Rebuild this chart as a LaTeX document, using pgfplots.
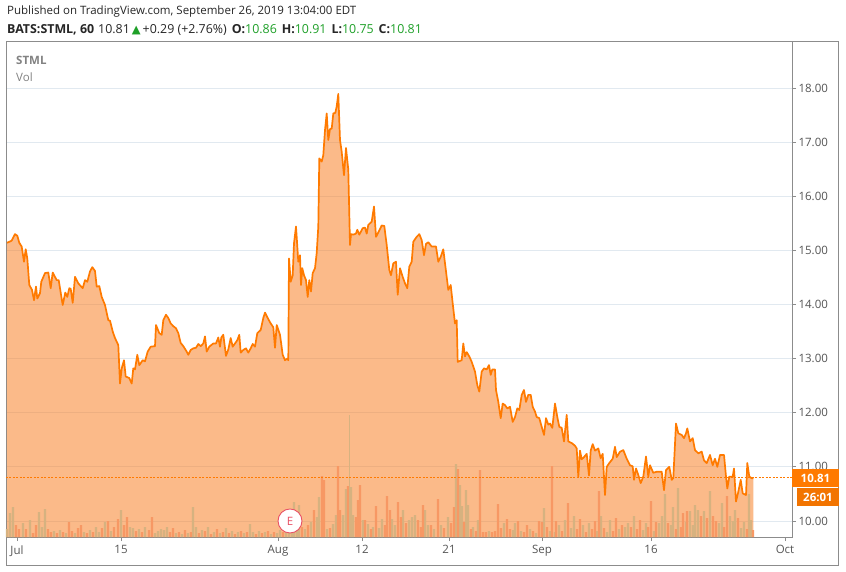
\documentclass[border=0pt]{standalone}
\usepackage{fontspec}
\setmainfont{Open Sans}
\newfontfamily\dejavu{DejaVu Sans}
\usepackage{pgfplots}
\pgfplotsset{compat=1.18}
\usepackage{pgfplotstable}
\definecolor{lineor}{RGB}{255,122,0}
\definecolor{areaor}{RGB}{249,118,20}
\definecolor{voltan}{RGB}{214,178,128}
\definecolor{volred}{RGB}{247,152,100}
\definecolor{gridc}{RGB}{225,233,240}
\definecolor{framec}{RGB}{140,140,140}
\definecolor{labc}{RGB}{85,85,85}
\definecolor{grn}{RGB}{30,160,40}
\definecolor{legc}{RGB}{130,130,130}
\definecolor{ered}{RGB}{232,80,100}
\pgfplotstableread{
x p
7 15.14
9.5 15.16
11.7 15.18
15 15.30
17.3 15.27
19.3 15.14
21.7 15.07
24 14.79
25.7 15.02
27.3 14.85
29.3 14.36
32 14.27
34 14.08
36 14.33
37.3 14.11
40 14.21
41.3 14.42
45 14.58
48.3 14.59
50.7 14.30
52.7 14.59
56.7 14.45
58.7 14.45
62.7 13.99
65.3 14.22
67.3 14.14
69.3 14.30
70.7 14.29
72.7 14.03
75 14.51
78.3 14.39
82.7 14.30
85 14.45
87.3 14.42
90 14.61
92.3 14.69
95 14.62
96.7 14.33
99.3 14.34
101.7 14.14
105 13.99
108.3 13.71
110 13.70
112.7 13.50
115 13.38
118.3 13.25
120 12.54
121.7 12.82
124 12.97
125.7 12.67
129.3 12.64
131.7 12.54
133.3 12.82
135 12.80
137.3 13.07
139.3 12.88
142.7 12.97
145 12.95
147.7 13.13
150.7 13.22
155 13.23
156 13.62
159.3 13.47
161.7 13.44
163.3 13.71
166 13.81
168.3 13.75
170.7 13.65
173.3 13.60
176 13.56
178.3 13.47
180.7 13.29
183.3 13.23
186.7 13.13
188.3 13.07
190.7 13.16
193.3 13.19
196 13.20
198.3 13.27
200.7 13.23
203.3 13.28
205 13.41
206.7 13.13
209.3 13.22
213.3 13.28
216 13.28
218.3 13.39
220 13.22
221.3 13.39
223.3 13.44
226 13.05
228.3 13.17
230.7 13.38
232.7 13.22
235 13.28
237.3 13.34
239.3 13.44
240.7 13.11
243.3 13.16
246 13.19
248.3 13.11
250.7 13.19
252.7 13.27
255 13.22
257.3 13.47
260.7 13.53
263.3 13.75
265 13.85
267.7 13.75
270.7 13.65
273.3 13.58
275 13.20
276.7 13.62
280 13.44
282.7 13.07
285 12.97
287.3 13.00
288.3 12.97
289 14.85
290.7 14.42
292.7 14.54
294 15.13
296 15.44
298.3 14.79
300 14.91
301 14.36
302.3 14.67
304 14.54
306 14.45
307.7 14.14
309.3 14.45
311 14.24
312.7 14.58
315 14.67
316.7 14.95
318.3 15.44
319.3 16.70
321.7 16.64
323.3 16.76
325 17.22
326.7 17.53
328.3 17.04
330 17.24
331.7 17.25
333.3 17.53
335.3 17.54
336.7 17.66
338.3 17.89
340 17.04
341.7 16.82
344 16.39
346 16.89
348.3 16.49
350 15.10
351 15.30
353.3 15.29
356 15.31
357.3 15.38
359.3 15.29
362.7 15.41
365 15.42
366.7 15.31
368.3 15.47
371.7 15.53
374 15.81
376 15.25
378.3 15.33
381.7 15.46
384.3 15.45
386.7 15.10
389.3 14.64
391 14.54
393.3 14.76
396 14.79
397.7 14.18
400 14.67
402.7 14.51
405 14.39
407.3 14.30
409.3 14.70
411.7 14.79
413.3 15.16
416.7 15.25
419.3 15.30
421.7 15.19
424 14.91
426 15.12
428.3 15.15
431.7 15.07
436 15.07
438.3 14.79
440.7 14.88
443.3 15.02
445 14.76
448.3 14.27
450.7 14.36
452.7 14.02
455 13.65
456.7 13.71
457.7 12.94
461.7 12.97
463.3 13.28
465 13.04
466.7 13.12
469.3 13.04
471.7 12.94
475 12.76
477.3 12.51
479.3 12.39
481.7 12.76
484 12.82
486.7 12.80
489 12.88
490.7 12.70
492.3 12.80
495 12.80
496 12.42
498.3 12.20
500.7 11.90
502.7 12.17
505 12.14
507.3 12.08
510 12.11
512.7 11.83
515 11.92
517.3 12.08
519.3 12.05
521.7 12.33
524 12.42
526 12.20
528.3 12.33
530.7 12.33
532.7 12.11
535 12.02
536.7 11.92
539.3 11.90
541.7 11.74
544 11.59
546 11.90
548.3 11.78
550 11.80
552.3 11.72
555 12.17
557.3 11.92
559.3 11.74
561.7 11.72
564 11.47
566.7 11.96
568.3 11.47
571.7 11.44
575 11.39
576.7 11.34
578.3 10.82
580 11.30
581.7 11.14
584 11.18
586.7 11.24
589 10.84
590.7 11.30
592.7 11.42
595 11.30
598.3 11.34
600.7 11.16
602.7 11.24
605 10.48
606.7 11.00
609.3 11.07
612.7 11.15
615 11.37
616.7 11.18
620 11.28
623.3 11.31
626.7 11.15
630 11.03
632.7 11.01
634 10.76
636 10.97
638.3 10.85
640.7 10.70
643.3 10.82
646 11.19
648.3 10.82
650 11.03
653.3 10.89
656.7 10.91
661.7 10.91
664 10.57
666 10.94
669.3 11.00
671.7 10.76
673.3 10.79
676 11.80
678.3 11.62
681.7 11.59
684 11.53
686 11.62
687.3 11.71
690 11.47
692.7 11.53
695 11.31
698.3 11.25
701.7 11.28
704 11.12
706.7 11.07
710 11.22
712.7 11.03
715 11.15
717.3 11.00
720 11.22
724 11.22
726 10.82
727.3 10.60
729.3 10.82
732.7 10.82
734 10.97
736 10.36
738.3 10.54
740.7 10.76
742.7 10.51
746 10.48
747.3 11.07
749.3 10.82
751.7 10.79
753.3 10.79
}\price
\pgfplotstableread{
x h
7 8
10 24
13 30
23 14
30 17
39 25
42 10
45 28
54 6
60 7
66 4
75 4
84 5
90 7
96 10
99 5
105 15
111 6
121 27
130 10
133 9
139 8
145 10
155 4
158 6
161 8
164 7
167 10
176 4
182 3
188 4
193 30
196 10
202 7
208 10
214 5
220 4
226 9
232 6
238 5
244 4
250 13
253 5
259 6
265 5
271 3
277 4
280 7
286 8
289 12
292 20
294 35
297 24
299 32
305 8
311 15
317 20
319 40
327 8
333 13
336 22
343 22
346 48
351 50
353 22
363 17
368 13
373 10
379 9
382 18
392 18
395 12
403 27
409 17
412 20
415 22
425 27
428 12
434 8
441 12
448 20
456 73
460 52
462 31
466 47
468 32
473 10
478 17
489 6
504 14
513 7
515 14
521 6
530 8
536 4
544 29
550 6
555 5
559 12
565 17
571 9
574 21
583 12
589 14
597 6
601 21
607 5
610 17
619 8
625 10
628 14
634 21
643 7
646 14
654 6
659 14
662 21
665 43
671 12
673 30
678 49
686 15
690 26
693 12
695 32
698 27
704 26
710 46
719 14
722 34
730 21
733 16
735 27
741 9
744 15
749 43
751 17
}\volup
\pgfplotstableread{
x h
16 12
19 8
26 8
33 4
36 12
48 8
51 5
57 4
63 5
69 15
72 6
78 9
81 12
87 4
93 5
102 9
108 16
114 10
118 18
124 12
127 20
136 6
142 5
149 7
152 20
170 5
173 9
179 5
185 7
191 5
199 4
205 6
211 3
217 8
223 5
229 4
235 3
241 6
247 5
256 3
262 4
268 6
274 5
283 5
302 10
308 12
314 27
322 61
324 57
330 9
338 71
340 27
348 51
356 20
358 37
360 52
365 17
371 8
376 31
385 12
387 41
390 27
398 35
401 20
406 14
418 17
421 10
423 32
431 12
438 38
444 9
451 14
454 30
458 68
464 15
471 8
476 6
480 67
483 5
486 5
492 5
495 6
498 33
501 9
507 18
510 8
518 16
524 5
527 12
533 6
539 16
542 15
547 10
552 71
556 16
562 6
568 34
577 8
580 18
586 5
592 8
595 16
599 46
604 9
613 6
616 19
622 12
631 10
637 8
640 17
648 10
651 36
656 15
668 14
676 8
681 10
683 24
687 26
701 21
707 19
713 21
716 16
724 10
727 41
738 19
747 8
753 7
}\voldown
\pgfplotstableread{
x h
349.5 122
}\volspike
\begin{document}
\begin{tikzpicture}
\path[fill=white] (0pt,0pt) rectangle (846pt,-572pt);
% header
\node[anchor=west, inner sep=0pt, font=\fontsize{11.5}{13}\selectfont, text=black!85] at (7pt,-12pt) {Published on TradingView.com, September 26, 2019 13:04:00 EDT};
\node[anchor=west, inner sep=0pt, font=\fontsize{12.4}{14}\selectfont, text=black!85] at (7pt,-30pt) {\textbf{BATS:STML, 60}\hspace{4pt}10.81\hspace{2pt}{\color{grn}\dejavu\fontsize{11.5}{14}\selectfont ▲}\hspace{2pt}+0.29 (+2.76\%)\hspace{5pt}\textbf{O:}{\color{grn}10.86}\hspace{5pt}\textbf{H:}{\color{grn}10.91}\hspace{5pt}\textbf{L:}{\color{grn}10.75}\hspace{5pt}\textbf{C:}{\color{grn}10.81}};
% outer frame
\draw[framec, line width=0.9pt] (6pt,-41pt) rectangle (838pt,-565pt);
\begin{axis}[
  at={(6pt,-537pt)}, anchor=south west,
  scale only axis, width=786pt, height=496pt,
  xmin=6, xmax=792, ymin=9.704, ymax=18.868,
  axis line style={draw=framec, line width=0.9pt},
  tick align=outside,
  major tick length=4pt,
  tick style={draw=framec, line width=0.8pt},
  xtick={17,121,278,362,449,542,651,785},
  xticklabels={Jul,15,Aug,12,21,Sep,16,Oct},
  xtick pos=bottom,
  ytick={10,11,...,18},
  ytick pos=right, yticklabel pos=right,
  ymajorgrids,
  major grid style={draw=gridc, line width=0.8pt},
  /pgf/number format/.cd, fixed, fixed zerofill, precision=2, assume math mode=true,
  /pgfplots/.cd,
  ticklabel style={font=\fontsize{11.5}{13}\selectfont, text=labc},
  yticklabel style={anchor=west, xshift=-1pt},
  xticklabel style={yshift=-1pt},
  clip=true,
]
\addplot[draw=none, fill=areaor, fill opacity=0.5] table[x=x, y=p] {\price} \closedcycle;
\addplot[ybar, bar width=2.4, bar shift=0pt, fill=voltan, draw=none] table[x=x, y expr={9.704+\thisrow{h}/54.125}] {\volup};
\addplot[ybar, bar width=2.4, bar shift=0pt, fill=volred, draw=none] table[x=x, y expr={9.704+\thisrow{h}/54.125}] {\voldown};
\addplot[ybar, bar width=1, bar shift=0pt, fill=voltan, draw=none] table[x=x, y expr={9.704+\thisrow{h}/54.125}] {\volspike};
\addplot[draw=lineor, line width=1.7pt, line join=round] table[x=x, y=p] {\price};
\addplot[draw=lineor, line width=0.9pt, dash pattern=on 2pt off 1.5pt] coordinates {(6,10.81) (792,10.81)};
\node[circle, draw=ered, line width=0.9pt, fill=white, minimum size=24pt, inner sep=0pt, text=ered, font=\fontsize{11.5}{13}\selectfont] at (axis cs:290,10.0) {E};
\end{axis}
% legend text
\node[anchor=west, inner sep=0pt, font=\fontsize{11.5}{13}\selectfont\bfseries, text=legc] at (16pt,-60pt) {STML};
\node[anchor=west, inner sep=0pt, font=\fontsize{11.5}{13}\selectfont, text=legc] at (16pt,-77pt) {Vol};
% price label boxes
\fill[lineor] (792pt,-469pt) rectangle (839pt,-487pt);
\node[anchor=center, inner sep=0pt, font=\fontsize{11.5}{13}\selectfont\bfseries, text=white] at (815.5pt,-478pt) {10.81};
\fill[lineor!95!black] (797pt,-488pt) rectangle (839pt,-506pt);
\node[anchor=center, inner sep=0pt, font=\fontsize{11.5}{13}\selectfont\bfseries, text=white] at (818pt,-497pt) {26:01};
\end{tikzpicture}
\end{document}
